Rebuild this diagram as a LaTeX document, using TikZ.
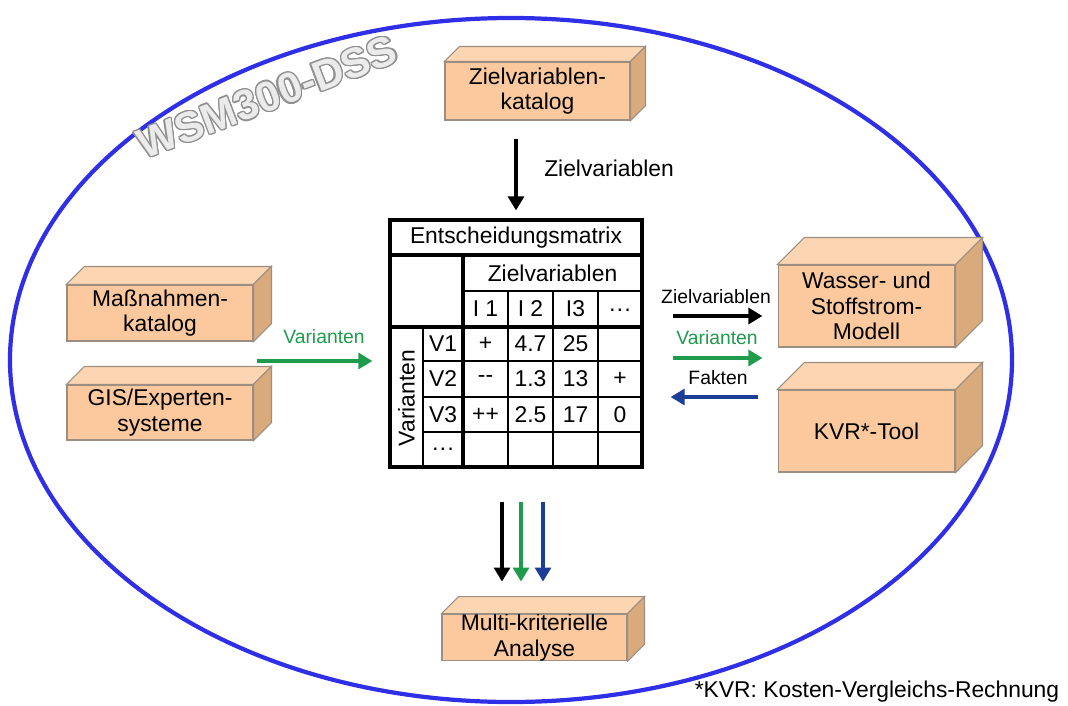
\documentclass[tikz,border=0pt]{standalone}
\usepackage{fontspec}
\setmainfont{Liberation Sans}
\usetikzlibrary{arrows.meta,calc}

\definecolor{boxfront}{HTML}{FBC99D}
\definecolor{boxtop}{HTML}{FCD6B2}
\definecolor{boxside}{HTML}{D9AA7C}
\definecolor{boxline}{HTML}{9C8F82}
\definecolor{gruen}{HTML}{1E9B4B}
\definecolor{blau}{HTML}{1C3E96}
\definecolor{rand}{HTML}{2F2FE8}
\definecolor{titelfill}{HTML}{EBEBEB}
\definecolor{titelline}{HTML}{909090}

\tikzset{
  quader/.style={draw=boxline, line width=0.6pt, fill=boxfront, inner sep=0pt, align=center},
  pfeil/.style={-{Triangle[length=8pt,width=9pt]}, line width=2.5pt},
  dick/.style={line width=1.8pt},
  duenn/.style={line width=0.9pt},
  klein/.style={font=\fontsize{11}{12}\selectfont},
  titelschrift/.style={rotate=21, font=\fontsize{24}{24}\selectfont\bfseries}
}

\begin{document}
\begin{tikzpicture}[x=0.02cm, y=-0.02cm, every node/.style={font=\fontsize{13}{14.5}\selectfont}]
  \useasboundingbox (0,0) rectangle (1068,706);

  % Rahmen
  \draw[rand, line width=2.4pt] (511,360) ellipse [x radius=501, y radius=342];
  \foreach \w [count=\k] in {0,22.5,...,337.5}
    \node[titelschrift, text=titelline] (titel\k) at ($(267,97)+(\w:0.75pt)$) {WSM300-DSS};
  \node[titelschrift, text=titelfill] (titel) at (267,97) {WSM300-DSS};

  % Quader
  \node[quader, minimum width=3.7cm, minimum height=1.16cm] (zk) at (537.5,91) {Zielvariablen-\\katalog};
  \node[quader, minimum width=3.72cm, minimum height=1.12cm] (mk) at (160,313) {Maßnahmen-\\katalog};
  \node[quader, minimum width=3.72cm, minimum height=1.1cm] (gis) at (160,412.5) {GIS/Experten-\\systeme};
  \node[quader, minimum width=3.54cm, minimum height=1.64cm] (wsm) at (866.5,306) {Wasser- und\\Stoffstrom-\\Modell};
  \node[quader, minimum width=3.54cm, minimum height=1.64cm] (kvr) at (866.5,431) {KVR*-Tool};
  \node[quader, minimum width=3.7cm, minimum height=0.92cm] (mka) at (534.5,637.5) {Multi-kriterielle\\Analyse};

  \foreach \n/\d in {zk/15, mk/18, gis/18, wsm/27, kvr/27, mka/17} {
    \draw[boxline, line width=0.6pt, fill=boxtop] (\n.north west) -- ($(\n.north west)+(\d,-\d)$)
      -- ($(\n.north east)+(\d,-\d)$) -- (\n.north east) -- cycle;
    \draw[boxline, line width=0.6pt, fill=boxside] (\n.north east) -- ($(\n.north east)+(\d,-\d)$)
      -- ($(\n.south east)+(\d,-\d)$) -- (\n.south east) -- cycle;
  }

  % Entscheidungsmatrix
  \node[draw, dick, minimum width=5.04cm, minimum height=4.94cm, inner sep=0pt] (em) at (516,343.5) {};
  \draw[dick] (390,255) -- (642,255);
  \draw[dick] (390,327) -- (642,327);
  \draw[dick] (463,255) -- (463,467);
  \draw[duenn] (463,291) -- (642,291);
  \draw[duenn] (423,327) -- (423,467);
  \foreach \yy in {361,397,432}
    \draw[duenn] (423,\yy) -- (642,\yy);
  \foreach \xx in {508,553,598}
    \draw[duenn] (\xx,291) -- (\xx,467);

  \node (em-titel) at (516,237.5) {Entscheidungsmatrix};
  \node (em-ziel) at (552.5,273) {Zielvariablen};
  \node[rotate=90] (em-var) at (406.5,398) {Varianten};
  \foreach \txt [count=\i] in {I 1, I 2, I3}
    \node (kopf\i) at ({440.5+45*\i},309) {\txt};
  \node (kopf4) at (620,313) {···};
  \foreach \v/\yy/\a/\b/\c/\d in {V1/344/+/4.7/25/{}, V2/379/-{}-/1.3/13/+, V3/414.5/++/2.5/17/0} {
    \node (\v) at (443,\yy) {\v};
    \node (\v-1) at (485.5,\yy) {\a};
    \node (\v-2) at (530.5,\yy) {\b};
    \node (\v-3) at (575.5,\yy) {\c};
    \node (\v-4) at (620,\yy) {\d};
  }
  \node (vpunkte) at (443,452) {···};

  % Pfeile
  \coordinate (r1) at (0,316);
  \coordinate (r2) at (0,358);
  \coordinate (r3) at (0,397);
  \coordinate (l1) at (257,361);

  \draw[pfeil, shorten <=0.36cm, shorten >=0.16cm] (zk.south -| em.north) -- (em.north);
  \node (lab-ziel) at (609,168) {Zielvariablen};

  \draw[pfeil, gruen, shorten >=0.32cm] (l1) -- (l1 -| em.west);
  \node[klein, text=gruen] (lab-var-l) at (324,337) {Varianten};

  \draw[pfeil, shorten <=0.58cm, shorten >=0.3cm] (em.east |- r1) -- (wsm.west |- r1);
  \draw[pfeil, gruen, shorten <=0.58cm, shorten >=0.3cm] (em.east |- r2) -- (wsm.west |- r2);
  \draw[pfeil, blau, shorten <=0.4cm, shorten >=0.54cm] (kvr.west |- r3) -- (em.east |- r3);
  \node[klein] (lab-ziel-r) at (716,297) {Zielvariablen};
  \node[klein, text=gruen] (lab-var-r) at (717,338) {Varianten};
  \node[klein] (lab-fakt) at (718,378) {Fakten};

  \foreach \xx/\farbe in {502/black, 521/gruen, 543/blau}
    \draw[pfeil, \farbe, shorten <=0.66cm, shorten >=0.64cm] (em.south -| \xx,0) -- (mka.north -| \xx,0);

  \node (fussnote) at (877,692) {*KVR: Kosten-Vergleichs-Rechnung};
\end{tikzpicture}
\end{document}
